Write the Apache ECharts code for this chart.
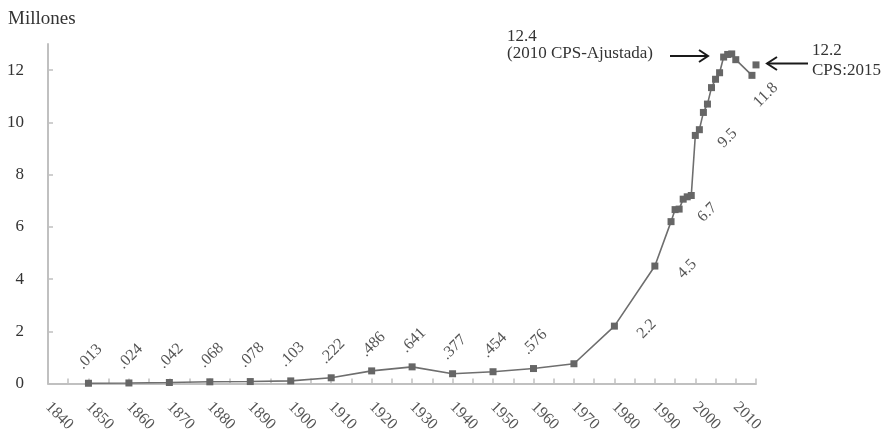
<!DOCTYPE html>
<html><head><meta charset="utf-8">
<script src="https://cdn.jsdelivr.net/npm/echarts@6/dist/echarts.min.js"></script>
<style>html,body{margin:0;padding:0;background:#fff}#c{width:886px;height:435px}</style>
</head><body><div id="c"></div>
<script>
const years = [1850,1860,1870,1880,1890,1900,1910,1920,1930,1940,1950,1960,1970,1980,1990,1994,1995,1996,1997,1998,1999,2000,2001,2002,2003,2004,2005,2006,2007,2008,2009,2010,2014];
const millions = [0.013,0.024,0.042,0.068,0.078,0.103,0.222,0.486,0.641,0.377,0.454,0.576,0.76,2.2,4.5,6.2,6.66,6.68,7.06,7.15,7.2,9.5,9.72,10.38,10.7,11.33,11.65,11.9,12.5,12.6,12.62,12.4,11.8];
const cpsYears = [2015];
const cpsMillions = [12.2];
const labelYears = [1850,1860,1870,1880,1890,1900,1910,1920,1930,1940,1950,1960,1980,1990,1995,2000,2014];
const labelTexts = ['.013','.024','.042','.068','.078','.103','.222','.486','.641','.377','.454','.576','2.2','4.5','6.7','9.5','11.8'];
const yTicks = [0,2,4,6,8,10,12];
const xTickLabels = [1840,1850,1860,1870,1880,1890,1900,1910,1920,1930,1940,1950,1960,1970,1980,1990,2000,2010];
const yAxisName = 'Millones';
const noteLeft = ['12.4', '(2010 CPS-Ajustada)'];
const noteRight = ['12.2', 'CPS:2015'];

const FONT = '"Liberation Serif", "DejaVu Serif", serif';
const labelBase = {show:true, rotate:45, align:'center', verticalAlign:'middle', color:'#555', fontFamily:FONT, fontSize:16};
function labelFor(year, text){
  if (year <= 1960) return Object.assign({}, labelBase, {position:'top', distance:21.5, offset:[2,0], formatter:text});
  if (year >= 2014) return Object.assign({}, labelBase, {position:'right', distance:13, offset:[-16,12], formatter:text});
  return Object.assign({}, labelBase, {position:'right', distance:26, offset:[0,4], formatter:text});
}
const mainData = years.map((y,i)=>{
  const k = labelYears.indexOf(y);
  const item = {value:[y, millions[i]]};
  item.label = k >= 0 ? labelFor(y, labelTexts[k]) : {show:false};
  return item;
});
const cpsData = cpsYears.map((y,i)=>({value:[y, cpsMillions[i]]}));

const chart = echarts.init(document.getElementById('c'));
const textC = '#333';
chart.setOption({
  animation:false,
  backgroundColor:'#fff',
  grid:{left:48, right:130, top:44, bottom:49, containLabel:false},
  xAxis:{type:'value', min:1840, max:2015, interval:5,
    axisLine:{lineStyle:{color:'#c0c0c0', width:2}},
    axisTick:{inside:true, length:5, lineStyle:{color:'#c0c0c0', width:1.5}},
    axisLabel:{customValues:xTickLabels, rotate:-45, margin:21, color:'#555', fontFamily:FONT, fontSize:16, formatter:v=>String(v)},
    splitLine:{show:false}},
  yAxis:{type:'value', min:0, max:13, interval:2,
    axisLine:{show:true, lineStyle:{color:'#c0c0c0', width:2}},
    axisTick:{show:true, inside:true, length:5, customValues:yTicks, lineStyle:{color:'#c0c0c0', width:1.5}},
    axisLabel:{customValues:yTicks, margin:24, color:textC, fontFamily:FONT, fontSize:17, padding:[6,0,0,0]},
    splitLine:{show:false}},
  series:[
    {type:'line', data:mainData, symbol:'rect', symbolSize:7, showAllSymbol:true,
     lineStyle:{color:'#6e6e6e', width:1.6}, itemStyle:{color:'#666'}, z:3},
    {type:'line', data:cpsData, symbol:'rect', symbolSize:7,
     lineStyle:{width:0}, itemStyle:{color:'#666'}, label:{show:false}, z:3}
  ],
  graphic:[
    {type:'text', left:8, top:10, style:{text:yAxisName, fill:textC, font:'19px '+FONT}},
    {type:'text', left:507, top:28, style:{text:noteLeft[0], fill:textC, font:'17px '+FONT}},
    {type:'text', left:507, top:45, style:{text:noteLeft[1], fill:textC, font:'17px '+FONT}},
    {type:'line', shape:{x1:670, y1:56, x2:708, y2:56}, style:{stroke:'#1a1a1a', lineWidth:2}},
    {type:'polyline', shape:{points:[[699,50],[708,56],[699,62]]}, style:{stroke:'#1a1a1a', lineWidth:2, fill:null}},
    {type:'text', left:812, top:42, style:{text:noteRight[0], fill:textC, font:'17px '+FONT}},
    {type:'text', left:812, top:62, style:{text:noteRight[1], fill:textC, font:'17px '+FONT}},
    {type:'line', shape:{x1:767, y1:63.5, x2:808, y2:63.5}, style:{stroke:'#1a1a1a', lineWidth:2}},
    {type:'polyline', shape:{points:[[777,57],[767,63.5],[777,70]]}, style:{stroke:'#1a1a1a', lineWidth:2, fill:null}}
  ]
});
</script></body></html>
